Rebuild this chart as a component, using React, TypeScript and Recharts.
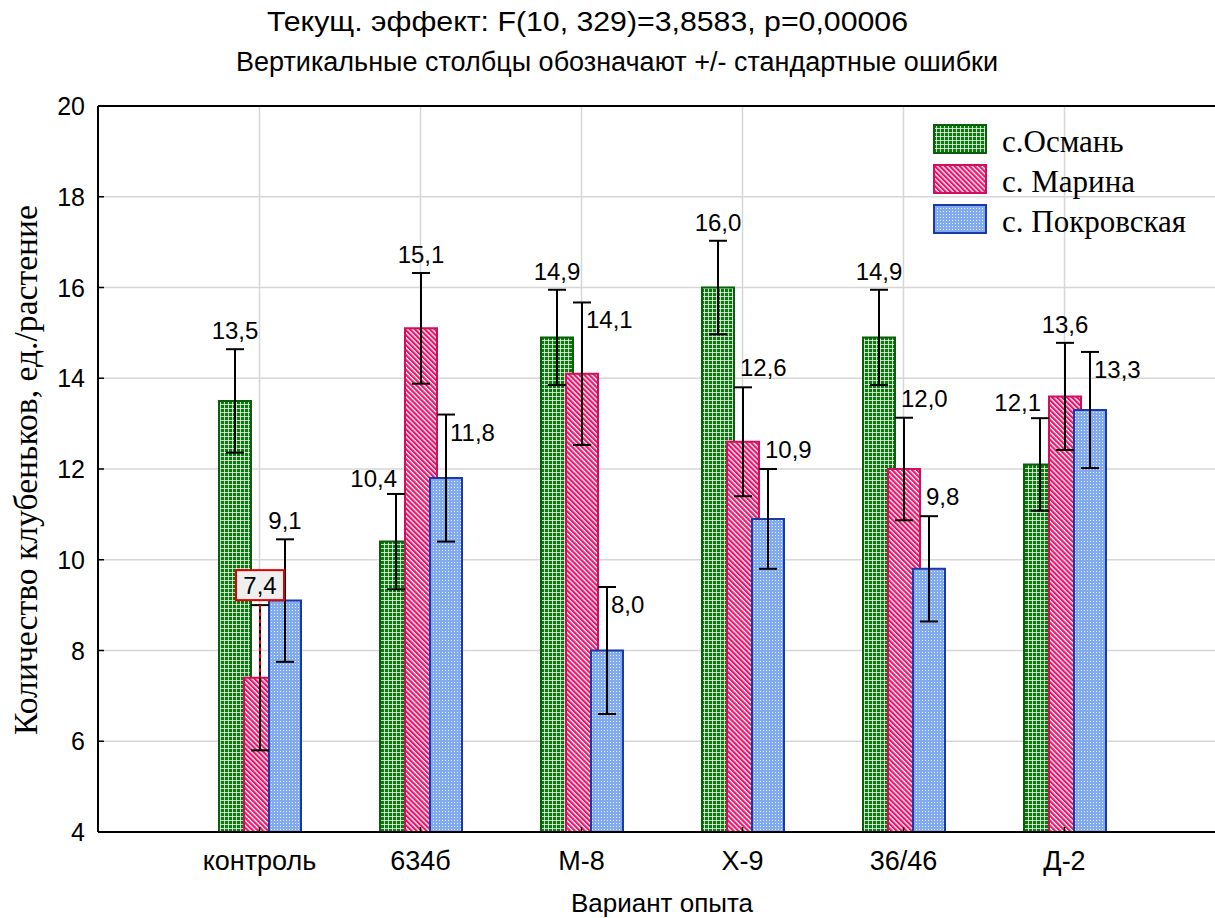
import { BarChart, Bar, XAxis, YAxis, CartesianGrid, ErrorBar, LabelList, ReferenceLine } from 'recharts';

const categories = ['контроль', '634б', 'М-8', 'Х-9', '36/46', 'Д-2'];
const osman = [13.5, 10.4, 14.9, 16.0, 14.9, 12.1];
const marina = [7.4, 15.1, 14.1, 12.6, 12.0, 13.6];
const pokrovskaya = [9.1, 11.8, 8.0, 10.9, 9.8, 13.3];
const osmanErr = [1.14, 1.05, 1.05, 1.03, 1.05, 1.02];
const marinaErr = [1.6, 1.22, 1.57, 1.2, 1.13, 1.18];
const pokrovskayaErr = [1.35, 1.4, 1.4, 1.1, 1.16, 1.28];
const yTicks = [4, 6, 8, 10, 12, 14, 16, 18, 20];

// where each value label sits relative to its error bar (c = above, l = above-left, r = above-right, rb = right-below)
const osmanPlace = ['c', 'l', 'c', 'c', 'c', 'l'];
const marinaPlace = ['box', 'c', 'rb', 'r', 'r', 'c'];
const pokrovskayaPlace = ['c', 'rb', 'rb', 'r', 'r', 'rb'];

const data = categories.map((name, i) => ({
  name,
  osman: osman[i],
  osmanErr: osmanErr[i],
  marina: marina[i],
  marinaErr: marinaErr[i],
  pokrovskaya: pokrovskaya[i],
  pokrovskayaErr: pokrovskayaErr[i],
}));

const SANS = '"Liberation Sans", Arial, sans-serif';
const SERIF = '"Liberation Serif", "Times New Roman", serif';
const Y_MIN = 4;
const PLOT_LEFT = 98;

const fmt = (v: number) => v.toFixed(1).replace('.', ',');

function makeLabel(place: string[], errs: number[]) {
  return (props: any) => {
    const vb = props.viewBox ?? {};
    const x = props.x ?? vb.x;
    const y = props.y ?? vb.y;
    const width = props.width ?? vb.width;
    const height = props.height ?? vb.height;
    const value = Number(props.value);
    const i = props.index;
    if (x == null || !isFinite(value)) return null;
    const ppu = height / (value - Y_MIN);
    const top = y - errs[i] * ppu;
    const cx = x + width / 2;
    const text = fmt(value);
    const common = { fontFamily: SANS, fontSize: 24, fill: '#000' };
    switch (place[i]) {
      case 'l':
        return <text x={cx + 1} y={top - 7} textAnchor="end" {...common}>{text}</text>;
      case 'r':
        return <text x={cx - 3} y={top - 11} textAnchor="start" {...common}>{text}</text>;
      case 'rb':
        return <text x={cx + 4} y={top + 26} textAnchor="start" {...common}>{text}</text>;
      case 'box':
        return (
          <g>
            <line x1={cx} x2={cx} y1={top} y2={y} stroke="#e00000" strokeWidth={2} strokeDasharray="4 3" />
            <rect x={cx - 24} y={top - 35} width={48} height={30} fill="#efefef" stroke="#e00000" strokeWidth={2} />
            <text x={cx} y={top - 11} textAnchor="middle" {...common}>{text}</text>
          </g>
        );
      default:
        return <text x={cx} y={top - 10} textAnchor="middle" {...common}>{text}</text>;
    }
  };
}

const YTick = (props: any) => {
  const { y, payload } = props;
  return (
    <g>
      <text x={PLOT_LEFT - 13} y={y} dy="0.36em" textAnchor="end" fontFamily={SANS} fontSize={25} fill="#000">
        {payload.value}
      </text>
      <line x1={PLOT_LEFT} x2={PLOT_LEFT + 6} y1={y} y2={y} stroke="#000" strokeWidth={1.5} />
    </g>
  );
};

const XTick = (props: any) => {
  const { x, y, payload } = props;
  return (
    <g>
      <text x={x} y={y} dy="0.71em" textAnchor="middle" fontFamily={SANS} fontSize={27} fill="#000">
        {payload.value}
      </text>
      <line x1={x} x2={x} y1={y - 19} y2={y - 24} stroke="#000" strokeWidth={1.5} />
    </g>
  );
};

const legendItems = [
  { label: 'с.Османь', fill: 'url(#pGreen)', stroke: '#0b5e0b' },
  { label: 'с. Марина', fill: 'url(#pPink)', stroke: '#d0105a' },
  { label: 'с. Покровская', fill: 'url(#pBlue)', stroke: '#1a3aa8' },
];

export default function App() {
  return (
    <div style={{ position: 'fixed', left: 0, top: 0, width: 1215, height: 918, overflow: 'hidden', background: '#fff' }}>
      <svg width={1215} height={918} style={{ position: 'absolute', left: 0, top: 0, pointerEvents: 'none', zIndex: 2 }}>
        <defs>
          <pattern id="pGreen" width="4" height="4" patternUnits="userSpaceOnUse">
            <rect width="4" height="4" fill="#0a780a" />
            <rect x="0" y="0" width="4" height="1" fill="#ffffff" opacity="0.75" />
            <rect x="0" y="0" width="1" height="4" fill="#ffffff" opacity="0.75" />
          </pattern>
          <pattern id="pPink" width="3.5" height="3.5" patternUnits="userSpaceOnUse" patternTransform="rotate(-45)">
            <rect width="3.5" height="3.5" fill="#ffffff" />
            <rect x="0" y="0" width="2.2" height="3.5" fill="#e8146a" />
          </pattern>
          <pattern id="pBlue" width="3" height="3" patternUnits="userSpaceOnUse">
            <rect width="3" height="3" fill="#82aaee" />
            <rect x="1" y="1" width="1" height="1" fill="#ffffff" opacity="0.8" />
          </pattern>
        </defs>
        <text x={267} y={31} textLength={641} lengthAdjust="spacingAndGlyphs" fontFamily={SANS} fontSize={27} fill="#000">
          Текущ.  эффект: F(10, 329)=3,8583, p=0,00006
        </text>
        <text x={236} y={71} textLength={762} lengthAdjust="spacingAndGlyphs" fontFamily={SANS} fontSize={27} fill="#000">
          Вертикальные столбцы обозначают +/- стандартные ошибки
        </text>
        <text
          transform="translate(37, 470) rotate(-90)"
          textAnchor="middle"
          textLength={530}
          lengthAdjust="spacingAndGlyphs"
          fontFamily={SERIF}
          fontSize={34}
          fill="#000"
        >
          Количество клубеньков, ед./растение
        </text>
        <text x={662} y={912} textAnchor="middle" fontFamily={SANS} fontSize={26} fill="#000">
          Вариант опыта
        </text>
        {legendItems.map((it, i) => (
          <g key={it.label}>
            <rect x={934} y={125 + i * 40} width={52} height={28} fill={it.fill} stroke={it.stroke} strokeWidth={2} />
            <text x={1002} y={152 + i * 40} fontFamily={SERIF} fontSize={31} fill="#000">
              {it.label}
            </text>
          </g>
        ))}
      </svg>
      <div style={{ position: 'absolute', left: 0, top: 0 }}>
        <BarChart
          width={1240}
          height={918}
          data={data}
          margin={{ top: 106, right: 14, bottom: 0, left: 0 }}
          barGap={-7}
        >
          <CartesianGrid stroke="#d6d6d6" strokeWidth={1.5} />
          <XAxis
            dataKey="name"
            height={86}
            padding={{ left: 81, right: 81 }}
            axisLine={{ stroke: '#000', strokeWidth: 2 }}
            tickLine={false}
            tickSize={0}
            tickMargin={19}
            tick={<XTick />}
            interval={0}
          />
          <YAxis
            width={PLOT_LEFT}
            domain={[4, 20]}
            ticks={yTicks}
            allowDataOverflow
            axisLine={{ stroke: '#000', strokeWidth: 2 }}
            tickLine={false}
            tick={<YTick />}
          />
          <ReferenceLine y={20} stroke="#000" strokeWidth={2} />
          <Bar dataKey="osman" fill="url(#pGreen)" stroke="#0b5e0b" strokeWidth={2} barSize={32} isAnimationActive={false}>
            <ErrorBar dataKey="osmanErr" width={9} stroke="#000" strokeWidth={2} direction="y" />
            <LabelList dataKey="osman" content={makeLabel(osmanPlace, osmanErr)} />
          </Bar>
          <Bar dataKey="marina" fill="url(#pPink)" stroke="#d0105a" strokeWidth={2} barSize={32} isAnimationActive={false}>
            <ErrorBar dataKey="marinaErr" width={9} stroke="#000" strokeWidth={2} direction="y" />
            <LabelList dataKey="marina" content={makeLabel(marinaPlace, marinaErr)} />
          </Bar>
          <Bar dataKey="pokrovskaya" fill="url(#pBlue)" stroke="#1a3aa8" strokeWidth={2} barSize={32} isAnimationActive={false}>
            <ErrorBar dataKey="pokrovskayaErr" width={9} stroke="#000" strokeWidth={2} direction="y" />
            <LabelList dataKey="pokrovskaya" content={makeLabel(pokrovskayaPlace, pokrovskayaErr)} />
          </Bar>
        </BarChart>
      </div>
    </div>
  );
}
